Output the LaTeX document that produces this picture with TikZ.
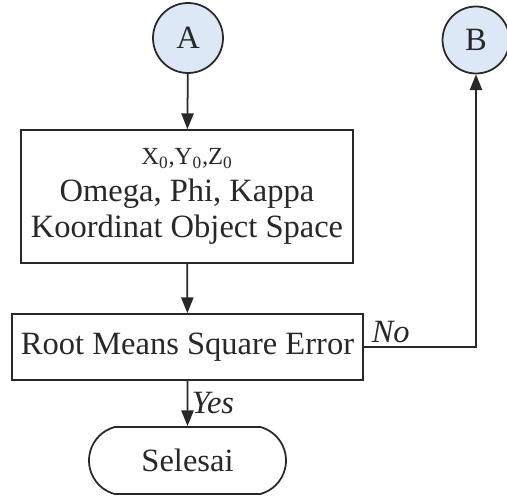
\documentclass[tikz,border=0pt]{standalone}
\usepackage{fontspec}
\setmainfont{Liberation Serif}
\usetikzlibrary{arrows.meta,shapes.misc}
\definecolor{connfill}{RGB}{221,232,246}
\definecolor{inkgray}{RGB}{40,40,40}
\begin{document}
\begin{tikzpicture}[x=1cm, y=1cm,
  every node/.style={font=\fontsize{18.5}{19.4}\selectfont, text=inkgray},
  conn/.style={circle, draw=inkgray, line width=1pt, fill=connfill, inner sep=0pt},
  procbox/.style={rectangle, draw=inkgray, line width=1pt, inner sep=0pt, align=center},
  endbox/.style={rounded rectangle, rounded rectangle arc length=150, draw=inkgray, line width=1pt, inner sep=0pt},
  flow/.style={draw=inkgray, line width=1pt, -{Triangle[length=9pt, width=7pt]}},
  tag/.style={font=\fontsize{18.5}{19.4}\selectfont\itshape, inner sep=2pt}]
  \useasboundingbox (0,0) rectangle (10.14,9.92);
  % connectors and boxes
  \node[conn, minimum size=1.40cm] (A) at (3.76,9.16) {A};
  \node[conn, minimum size=1.34cm] (B) at (9.52,9.12) {B};
  \node[procbox, minimum width=6.64cm, minimum height=2.66cm] (param) at (3.74,5.99)
    {{\fontsize{14}{16}\selectfont X\textsubscript{0},Y\textsubscript{0},Z\textsubscript{0}}\\[2pt]Omega, Phi, Kappa\\[1pt]Koordinat Object Space};
  \node[procbox, minimum width=7.02cm, minimum height=1.32cm] (rmse) at (3.75,2.98) {Root Means Square Error};
  \node[endbox, minimum width=3.94cm, minimum height=1.34cm] (done) at (3.75,0.71) {Selesai};
  % flow lines
  \draw[flow] (A) -- (param);
  \draw[flow] (param) -- (rmse);
  \draw[flow] (rmse) -- node[tag, right] (yes) {Yes} (done);
  \draw[flow] (rmse.east) -- node[tag, pos=0, anchor=south west, xshift=2pt] (no) {No} (rmse.east -| B.south) -- (B.south);
\end{tikzpicture}
\end{document}
